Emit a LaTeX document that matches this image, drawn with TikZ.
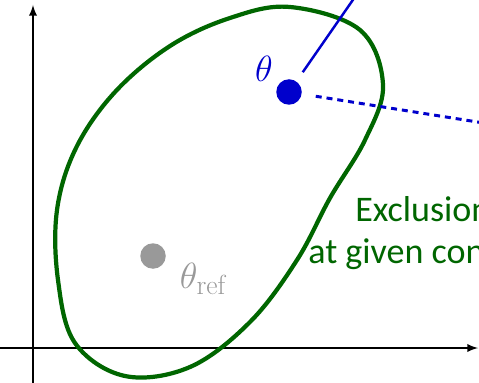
\documentclass[tikz,border=0pt]{standalone}
\usepackage{fontspec}
\newfontfamily\labelfont{Carlito}
\usetikzlibrary{arrows}

\definecolor{regiongreen}{RGB}{0,102,0}
\definecolor{paramblue}{RGB}{0,0,204}
\definecolor{refgray}{RGB}{153,153,153}

\begin{document}
\begin{tikzpicture}[
  x=0.2mm, y=-0.2mm,
  axis/.style={->, >=latex, line width=1.1pt},
  region/.style={draw=regiongreen, line width=2.4pt},
  dot/.style={circle, inner sep=0pt, minimum size=5.1mm},
  param/.style={paramblue, line width=1.4pt},
  profile/.style={paramblue, line width=1.7pt, dash pattern=on 3.4pt off 2.8pt},
  note/.style={regiongreen, font=\labelfont\fontsize{20.5}{24}\selectfont, inner sep=0pt}
]
  \useasboundingbox (0,0) rectangle (479,382);
  \clip (0,0) rectangle (479,382);

  % axes
  \coordinate (xs) at (0,348);
  \coordinate (xe) at (478,348);
  \coordinate (ys) at (33,385);
  \coordinate (ye) at (33,5);
  \draw[axis] (xs) -- (xe);
  \draw[axis] (ys) -- (ye);

  % exclusion region
  \draw[region] plot[smooth cycle, tension=0.6] coordinates {
    (290,7) (360,30) (383,85) (365,140) (330,198) (297,260) (250,322)
    (190,367) (125,376) (75,343) (58,280) (57,210) (76,148) (115,92)
    (170,46) (230,18)};

  % points
  \node[dot, fill=paramblue] (th) at (289,92) {};
  \node[paramblue, font=\fontsize{21}{24}\selectfont, anchor=center] (thlab) at (264,69) {$\theta$};
  \node[dot, fill=refgray] (thref) at (153,256) {};
  \node[refgray, font=\fontsize{22.5}{26}\selectfont, anchor=center] (reflab) at (203,279) {$\theta_{\mathrm{ref}}$};

  \coordinate (up) at (357,-6);
  \coordinate (right) at (490,124);
  \draw[param, shorten <=2.2mm] (th) -- (up);
  \draw[profile, shorten <=2.8mm] (th) -- (right);

  % label
  \node[note, anchor=base west] (excl) at (355,221) {Exclusion};
  \node[note, anchor=base west] (conf) at (308,263) {at given con};
\end{tikzpicture}
\end{document}
